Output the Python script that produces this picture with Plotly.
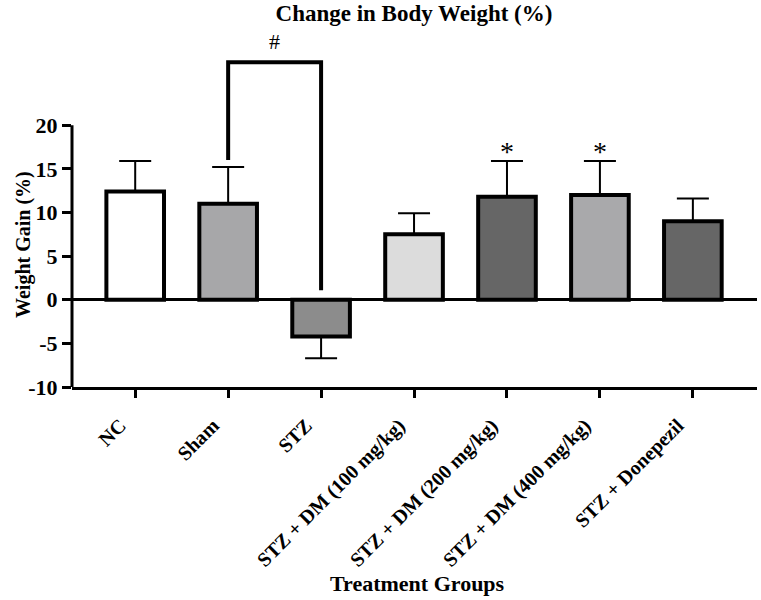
import plotly.graph_objects as go

groups = ["NC", "Sham", "STZ", "STZ + DM (100 mg/kg)", "STZ + DM (200 mg/kg)",
          "STZ + DM (400 mg/kg)", "STZ + Donepezil"]
means = [12.4, 11.0, -4.2, 7.5, 11.8, 12.0, 9.0]
err_up = [3.5, 4.2, 0.0, 2.4, 4.1, 3.9, 2.6]
err_down = [0.0, 0.0, 2.5, 0.0, 0.0, 0.0, 0.0]
colors = ["#ffffff", "#a7a7a9", "#8c8c8c", "#dcdcdc", "#666666", "#a9a9ab", "#666666"]
y_ticks = [-10, -5, 0, 5, 10, 15, 20]
star_groups = [4, 5]
star_y = 17.0
bracket = {"left": 1, "right": 2, "left_y": 16.0, "top_y": 27.2, "right_y": 1.1}

FONT = "Liberation Serif"

fig = go.Figure()
fig.add_trace(go.Bar(
    x=list(range(len(groups))), y=means,
    marker=dict(color=colors, line=dict(color="black", width=4)),
    width=0.62,
    error_y=dict(type="data", symmetric=False, array=err_up, arrayminus=err_down,
                 color="black", thickness=2, width=16),
    showlegend=False,
))

# y axis line (only spans the tick range)
fig.add_shape(type="line", xref="paper", yref="y", x0=0, x1=0,
              y0=y_ticks[0], y1=y_ticks[-1], line=dict(color="black", width=3))

# significance bracket
b = bracket
fig.add_shape(type="path", xref="x", yref="y",
              path=f"M {b['left']},{b['left_y']} L {b['left']},{b['top_y']} L {b['right']},{b['top_y']} L {b['right']},{b['right_y']}",
              line=dict(color="black", width=4))
fig.add_annotation(x=(b["left"] + b["right"]) / 2, y=1.027, xref="x", yref="paper",
                   text="#", showarrow=False, yanchor="middle",
                   font=dict(family=FONT, size=22, color="black"))
for g in star_groups:
    fig.add_annotation(x=g, y=star_y, xref="x", yref="y", text="*", showarrow=False,
                       font=dict(family=FONT, size=28, color="black"))

fig.add_annotation(x=-0.07, y=0.423, xref="paper", yref="paper", text="<b>Weight Gain (%)</b>",
                   textangle=-90, showarrow=False, xanchor="center", yanchor="middle",
                   font=dict(family=FONT, size=20, color="black"))
fig.add_annotation(x=0.504, y=-0.586, xref="paper", yref="paper", text="<b>Treatment Groups</b>",
                   showarrow=False, yanchor="middle", font=dict(family=FONT, size=22, color="black"))

fig.update_layout(
    width=761, height=600,
    margin=dict(l=72, r=4, t=51, b=213, autoexpand=False),
    paper_bgcolor="white", plot_bgcolor="white",
    title=dict(text="<b>Change in Body Weight (%)</b>", x=0.544, xanchor="center",
               y=0.978, yanchor="middle", font=dict(family=FONT, size=23, color="black")),
    xaxis=dict(range=[-0.68, 6.69], tickmode="array", tickvals=list(range(len(groups))),
               ticktext=[f"<b>{g}</b>" for g in groups], tickangle=-45, automargin=False,
               ticklabelshift=-15, ticklabelstandoff=8,
               showline=True, linecolor="black", linewidth=3,
               ticks="outside", ticklen=8, tickwidth=3, tickcolor="black",
               showgrid=False, zeroline=False,
               tickfont=dict(family=FONT, size=20, color="black")),
    yaxis=dict(range=[-10, 28.5], tickmode="array", tickvals=y_ticks, automargin=False,
               ticktext=[f"<b>{t}</b>" for t in y_ticks],
               showline=False, ticks="outside", ticklen=9, tickwidth=3, tickcolor="black",
               showgrid=False, zeroline=True, zerolinecolor="black", zerolinewidth=3,
               tickfont=dict(family=FONT, size=22, color="black")),
)

fig.write_html("out.html", config={"displayModeBar": False},
               post_script="document.body.style.margin='0';document.body.style.padding='0';")
